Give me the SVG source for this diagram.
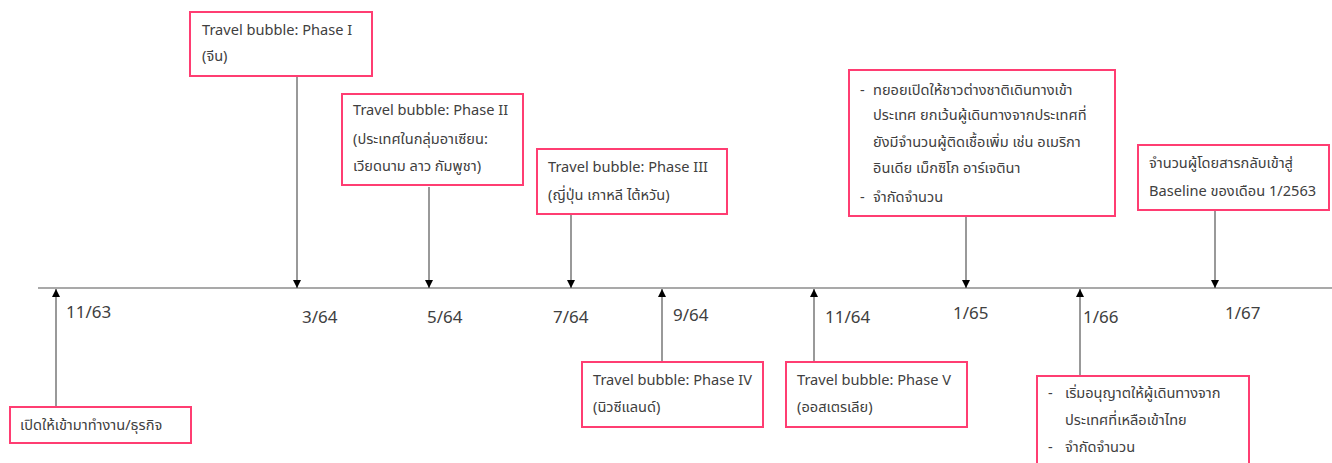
<svg xmlns="http://www.w3.org/2000/svg" width="1332" height="463" viewBox="0 0 1332 463">
<style>
.box{fill:#fff;stroke:#ff3d72;stroke-width:2}
.t{font-family:"Noto Sans Thai","Noto Sans","Liberation Sans",sans-serif;font-size:14.6px;fill:#404040}
.d{font-family:"Noto Sans Thai","Noto Sans","Liberation Sans",sans-serif;font-size:17px;fill:#404040}
.c{stroke:#555;stroke-width:1.2;fill:none;marker-end:url(#ah)}
</style>
<defs>
<marker id="ah" viewBox="0 0 10 10" refX="10" refY="5" markerWidth="8" markerHeight="8" markerUnits="userSpaceOnUse" orient="auto">
<path d="M0,0 L10,5 L0,10 z" fill="#000"/>
</marker>
</defs>
<rect width="1332" height="463" fill="#fff"/>
<g id="timeline">
<line x1="38" y1="288" x2="1332" y2="288" stroke="#555" stroke-width="1.2"/>
<text class="d" x="66" y="318">11/63</text>
<text class="d" x="302" y="323">3/64</text>
<text class="d" x="427" y="323">5/64</text>
<text class="d" x="553" y="323">7/64</text>
<text class="d" x="673" y="321">9/64</text>
<text class="d" x="825" y="323">11/64</text>
<text class="d" x="953" y="319">1/65</text>
<text class="d" x="1083" y="323">1/66</text>
<text class="d" x="1225" y="319">1/67</text>
</g>
<g id="connectors">
<line class="c" x1="56" y1="406" x2="56" y2="289"/>
<line class="c" x1="297" y1="77" x2="297" y2="288"/>
<line class="c" x1="429" y1="187" x2="429" y2="288"/>
<line class="c" x1="571" y1="215" x2="571" y2="288"/>
<line class="c" x1="662" y1="362" x2="662" y2="289"/>
<line class="c" x1="814" y1="362" x2="814" y2="289"/>
<line class="c" x1="966" y1="216" x2="966" y2="288"/>
<line class="c" x1="1080" y1="376" x2="1080" y2="289"/>
<line class="c" x1="1215" y1="211" x2="1215" y2="288"/>
</g>
<g id="n1">
<rect class="box" x="10" y="407" width="181" height="36"/>
<text class="t" x="20" y="430">เปิดให้เข้ามาทำงาน/ธุรกิจ</text>
</g>
<g id="n2">
<rect class="box" x="190" y="12" width="182" height="64"/>
<text class="t" x="202" y="35">Travel bubble: Phase I</text>
<text class="t" x="202" y="61">(จีน)</text>
</g>
<g id="n3">
<rect class="box" x="342" y="94" width="181" height="91"/>
<text class="t" x="353" y="115">Travel bubble: Phase II</text>
<text class="t" x="353" y="144">(ประเทศในกลุ่มอาเซียน:</text>
<text class="t" x="353" y="171">เวียดนาม ลาว กัมพูชา)</text>
</g>
<g id="n4">
<rect class="box" x="537" y="149" width="190" height="65"/>
<text class="t" x="548" y="172">Travel bubble: Phase III</text>
<text class="t" x="548" y="200">(ญี่ปุ่น เกาหลี ไต้หวัน)</text>
</g>
<g id="n5">
<rect class="box" x="582" y="362" width="181" height="65"/>
<text class="t" x="593" y="385">Travel bubble: Phase IV</text>
<text class="t" x="593" y="412">(นิวซีแลนด์)</text>
</g>
<g id="n6">
<rect class="box" x="786" y="362" width="181" height="65"/>
<text class="t" x="797" y="385">Travel bubble: Phase V</text>
<text class="t" x="797" y="412">(ออสเตรเลีย)</text>
</g>
<g id="n7">
<rect class="box" x="849" y="70" width="266" height="146"/>
<text class="t" x="860" y="95">-</text>
<text class="t" x="873" y="95">ทยอยเปิดให้ชาวต่างชาติเดินทางเข้า</text>
<text class="t" x="873" y="120">ประเทศ ยกเว้นผู้เดินทางจากประเทศที่</text>
<text class="t" x="873" y="147">ยังมีจำนวนผู้ติดเชื้อเพิ่ม เช่น อเมริกา</text>
<text class="t" x="873" y="173">อินเดีย เม็กซิโก อาร์เจตินา</text>
<text class="t" x="860" y="202">-</text>
<text class="t" x="873" y="202">จำกัดจำนวน</text>
</g>
<g id="n8">
<rect class="box" x="1138" y="145" width="191" height="65"/>
<text class="t" x="1149" y="168">จำนวนผู้โดยสารกลับเข้าสู่</text>
<text class="t" x="1149" y="196">Baseline ของเดือน 1/2563</text>
</g>
<g id="n9">
<rect class="box" x="1037" y="376" width="212" height="95"/>
<text class="t" x="1048" y="398">-</text>
<text class="t" x="1065" y="398">เริ่มอนุญาตให้ผู้เดินทางจาก</text>
<text class="t" x="1065" y="425">ประเทศที่เหลือเข้าไทย</text>
<text class="t" x="1048" y="452">-</text>
<text class="t" x="1065" y="452">จำกัดจำนวน</text>
</g>
</svg>
